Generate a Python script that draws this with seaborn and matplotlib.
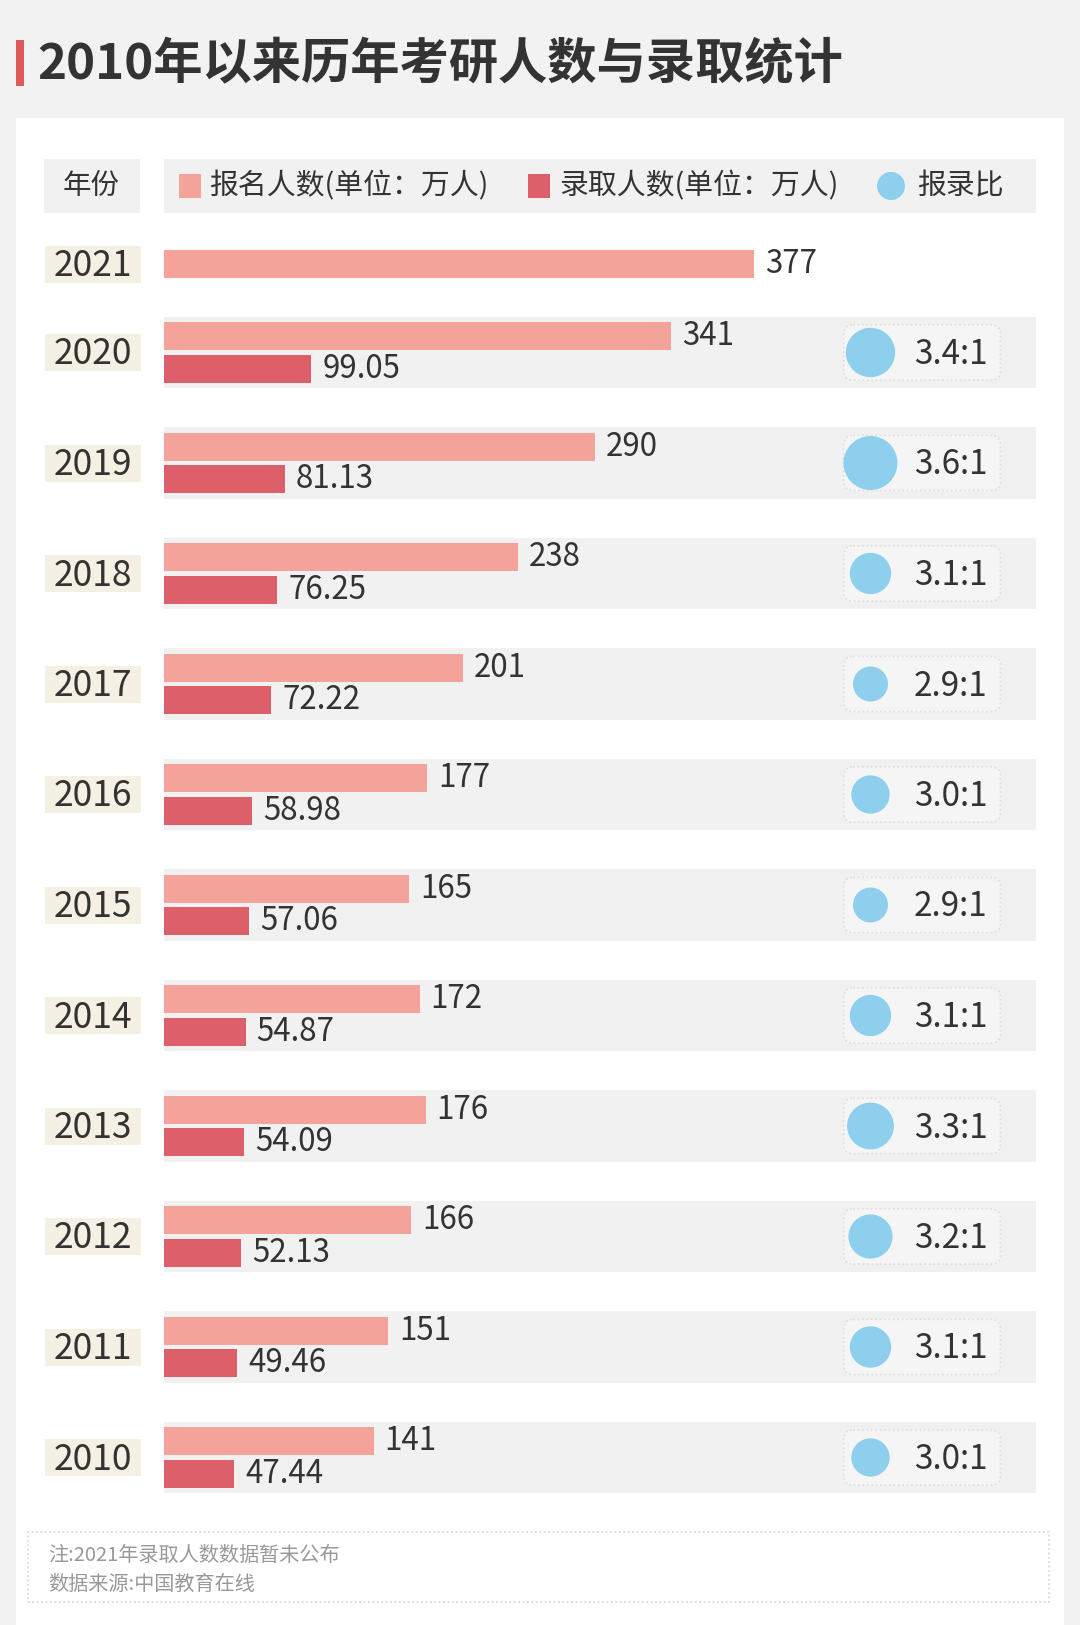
import matplotlib
matplotlib.use("Agg")
import matplotlib.pyplot as plt
from matplotlib.patches import Rectangle, FancyBboxPatch, Ellipse
from matplotlib import transforms
import seaborn as sns
import pandas as pd
import numpy as np

# ---- data ----
years = ['2020', '2019', '2018', '2017', '2016', '2015', '2014', '2013', '2012', '2011', '2010']
applicants = [341, 290, 238, 201, 177, 165, 172, 176, 166, 151, 141]
admitted = [99.05, 81.13, 76.25, 72.22, 58.98, 57.06, 54.87, 54.09, 52.13, 49.46, 47.44]
ratios = [3.4, 3.6, 3.1, 2.9, 3.0, 2.9, 3.1, 3.3, 3.2, 3.1, 3.0]
year_2021 = '2021'
applicants_2021 = 377

title = '2010年以来历年考研人数与录取统计'
legend_labels = ['报名人数(单位：万人)', '录取人数(单位：万人)', '报录比']
notes = ['注:2021年录取人数数据暂未公布', '数据来源:中国教育在线']

PINK = '#f4a39b'
RED = '#dd5f6a'
BLUE = '#8ecfed'
BAND = '#f1f1f1'
CREAM = '#f4f1e4'
TXT = '#333333'
NUM_W = 'light'

sns.set_theme(style="white")
plt.rcParams['font.family'] = ['Noto Sans CJK SC', 'DejaVu Sans']

W, H = 1080, 1625
fig = plt.figure(figsize=(W / 100, H / 100), dpi=100)
fig.patch.set_facecolor('#f2f2f2')


def fx(px):
    return px / W


def fy(py):
    return 1 - py / H


# card
fig.patches.append(Rectangle((fx(15.5), 0), fx(1064) - fx(15.5), fy(118),
                             transform=fig.transFigure, facecolor='white', edgecolor='none', zorder=-1))

# title
fig.patches.append(Rectangle((fx(15.5), fy(86)), fx(8), fy(40) - fy(86),
                             transform=fig.transFigure, facecolor='#e05a5c', edgecolor='none'))
fig.text(fx(37), fy(64), title, fontsize=35.5, fontweight='bold', color=TXT, va='center', ha='left')

# header
fig.patches.append(Rectangle((fx(44), fy(212.5)), fx(96), fy(158.5) - fy(212.5),
                             transform=fig.transFigure, facecolor=BAND, edgecolor='none'))
fig.patches.append(Rectangle((fx(164), fy(212.5)), fx(872), fy(158.5) - fy(212.5),
                             transform=fig.transFigure, facecolor=BAND, edgecolor='none'))
hy = 186
fig.text(fx(91), fy(hy), '年份', fontsize=20.5, color=TXT, ha='center', va='center')
fig.patches.append(Rectangle((fx(179), fy(hy + 11.5)), fx(22), fy(0) - fy(23),
                             transform=fig.transFigure, facecolor=PINK, edgecolor='none'))
fig.text(fx(209), fy(hy), legend_labels[0], fontsize=20.8, color=TXT, ha='left', va='center')
fig.patches.append(Rectangle((fx(528), fy(hy + 11.5)), fx(22), fy(0) - fy(23),
                             transform=fig.transFigure, facecolor=RED, edgecolor='none'))
fig.text(fx(559), fy(hy), legend_labels[1], fontsize=20.8, color=TXT, ha='left', va='center')
fig.patches.append(Ellipse((fx(891), fy(hy)), 28 / W, 28 / H,
                           transform=fig.transFigure, facecolor=BLUE, edgecolor='none'))
fig.text(fx(917), fy(hy), legend_labels[2], fontsize=20.8, color=TXT, ha='left', va='center')

# ---- 2021 row (own axes) ----
ax_top = fig.add_axes([fx(164), fy(294), fx(872), 60 / H])
df_top = pd.DataFrame({'year': [year_2021], 'value': [applicants_2021]})
sns.barplot(data=df_top, x='value', y='year', orient='h', color=PINK, saturation=1,
            width=0.48, errorbar=None, linewidth=0, ax=ax_top)
ax_top.set_xlim(0, 872 / 1.565)
ax_top.set_ylim(0.5, -0.5)
ax_top.bar_label(ax_top.containers[0], fmt='{:.0f}', padding=8, fontsize=22.5,
                 color=TXT, fontweight=NUM_W)

# ---- 2020-2010 rows ----
row_px = 110.5
ax = fig.add_axes([fx(164), fy(1512.75), fx(872), len(years) * row_px / H])
for i in range(len(years)):
    ax.axhspan(i - 0.324, i + 0.324, color=BAND, zorder=0, lw=0)

df = pd.DataFrame({'year': years, '报名人数': applicants, '录取人数': admitted})
df_long = df.melt(id_vars='year', var_name='series', value_name='value')
sns.barplot(data=df_long, x='value', y='year', hue='series', orient='h',
            palette=[PINK, RED], saturation=1, width=0.59, gap=0.15, linewidth=0,
            errorbar=None, legend=False, ax=ax, zorder=2)
ax.set_xlim(0, 872 / 1.486)
ax.set_ylim(len(years) - 0.5, -0.5)
ax.bar_label(ax.containers[0], fmt='{:.0f}', padding=8, fontsize=22.5, color=TXT, fontweight=NUM_W)
ax.bar_label(ax.containers[1], fmt='{:.2f}', padding=8, fontsize=22.5, color=TXT, fontweight=NUM_W)

for a in (ax, ax_top):
    a.set_facecolor('none')
    a.set_xticks([])
    a.set_yticks([])
    a.set_xlabel('')
    a.set_ylabel('')
    a.set_zorder(3)
    for s in a.spines.values():
        s.set_visible(False)

# year labels with cream boxes
for a, labels, unit_px in ((ax_top, [year_2021], 60), (ax, years, row_px)):
    tr = transforms.blended_transform_factory(fig.transFigure, a.transData)
    h = 37 / unit_px
    for i, y in enumerate(labels):
        a.add_patch(Rectangle((fx(45), i - h / 2), fx(96), h, transform=tr,
                              facecolor=CREAM, edgecolor='none', clip_on=False))
        a.text(fx(93), i + 2 / unit_px, y, transform=tr, fontsize=25.5, color=TXT,
               ha='center', va='center', fontweight=NUM_W)

# ---- ratio column ----
rax = fig.add_axes([fx(842), fy(1512.75), fx(160), len(years) * row_px / H])
rax.set_facecolor('none')
rax.set_zorder(4)
for i in range(len(years)):
    rax.add_patch(FancyBboxPatch((0.01, i - 0.25), 0.98, 0.5,
                                 boxstyle='round,pad=0,rounding_size=0.06',
                                 mutation_aspect=160 / row_px,
                                 facecolor='#f5f5f5', edgecolor='#dedede',
                                 linestyle=':', linewidth=1.2, zorder=1))
df_r = pd.DataFrame({'year': years, 'ratio': ratios})
df_r['col'] = 0.178
df_r['pos'] = np.arange(len(years))
sns.scatterplot(data=df_r, x='col', y='pos', size='ratio', sizes=(635, 1512),
                size_norm=(2.9, 3.6), color=BLUE, linewidth=0, legend=False,
                ax=rax, zorder=3)
for i, r in enumerate(ratios):
    rax.text(0.45, i + 2 / row_px, f'{r:.1f}:1', fontsize=24, color=TXT, ha='left',
             va='center', zorder=4, fontweight=NUM_W)
rax.set_xlim(0, 1)
rax.set_ylim(len(years) - 0.5, -0.5)
rax.set_xticks([])
rax.set_yticks([])
rax.set_xlabel('')
rax.set_ylabel('')
for s in rax.spines.values():
    s.set_visible(False)

# ---- footnote ----
fig.patches.append(FancyBboxPatch((fx(28), fy(1602)), fx(1049) - fx(28), fy(1532) - fy(1602),
                                  boxstyle='square,pad=0', transform=fig.transFigure,
                                  facecolor='white', edgecolor='#d5d5d5', linestyle=':', linewidth=1.2))
fig.text(fx(48), fy(1555), notes[0], fontsize=14.5, color='#999999', ha='left', va='center')
fig.text(fx(48), fy(1584), notes[1], fontsize=14.5, color='#999999', ha='left', va='center')

fig.savefig('out.png', dpi=100, facecolor=fig.get_facecolor())
